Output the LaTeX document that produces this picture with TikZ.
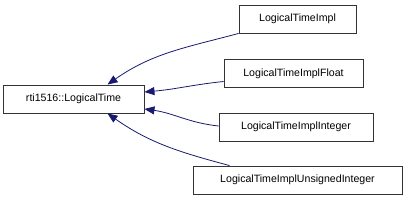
\documentclass[tikz,border=0pt]{standalone}
\usepackage{fontspec}
\setmainfont{Liberation Sans}
\usetikzlibrary{arrows.meta, positioning}
\definecolor{edgeblue}{RGB}{25,25,112}

\begin{document}
\begin{tikzpicture}[
    x=1pt, y=-1pt,
    cls/.style={rectangle, draw=black!80, line width=0.9pt, minimum height=28pt, inner sep=0pt, align=center, fill=white, font=\fontsize{10.6}{12}\selectfont},
    arrow/.style={-{Triangle[length=10pt, width=8pt]}, draw=edgeblue, line width=0.8pt}
]
\useasboundingbox (0,0) rectangle (411,200);

% Nodes
\node[cls, minimum width=141pt] (base) at (73.5,99) {rti1516::LogicalTime};
\node[cls, minimum width=117pt] (impl) at (297.5,19) {LogicalTimeImpl};
\node[cls, minimum width=139pt] (float) at (293.5,73.5) {LogicalTimeImplFloat};
\node[cls, minimum width=154pt] (integer) at (296,127) {LogicalTimeImplInteger};
\node[cls, minimum width=209pt] (unsigned) at (297.5,180) {LogicalTimeImplUnsignedInteger};

% Arrows
\draw[arrow] (impl.south west) to[out=195, in=35] ([xshift=34pt]base.north);
\draw[arrow] ([yshift=-8pt]float.west) to[out=186, in=5] ([yshift=7pt]base.east);
\draw[arrow] ([yshift=1pt]integer.west) to[out=174, in=-8] ([yshift=-10pt]base.east);
\draw[arrow] ([xshift=-68pt]unsigned.north) to[out=165, in=-35] ([xshift=34pt]base.south);

\end{tikzpicture}
\end{document}
